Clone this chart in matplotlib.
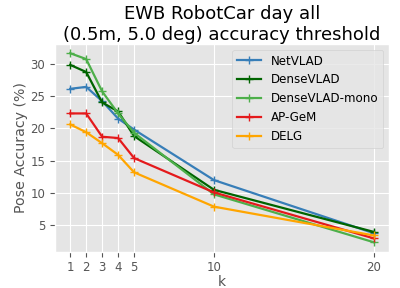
import numpy as np
import matplotlib

matplotlib.use("Agg")
import matplotlib.pyplot as plt

plt.style.use("ggplot")

k = [1, 2, 3, 4, 5, 10, 20]
netvlad = [26.1, 26.4, 24.2, 21.5, 19.8, 12.0, 3.8]
densevlad = [29.8, 28.7, 24.0, 22.6, 18.8, 10.5, 4.0]
densevlad_mono = [31.6, 30.7, 25.7, 22.3, 19.3, 9.8, 2.4]
ap_gem = [22.3, 22.3, 18.7, 18.5, 15.4, 10.1, 3.0]
delg = [20.6, 19.4, 17.7, 15.9, 13.2, 7.9, 3.45]

series = [
    ("NetVLAD", netvlad, "#377eb8"),
    ("DenseVLAD", densevlad, "darkgreen"),
    ("DenseVLAD-mono", densevlad_mono, "#4daf4a"),
    ("AP-GeM", ap_gem, "#e41a1c"),
    ("DELG", delg, "orange"),
]

fig, ax = plt.subplots(figsize=(4.0, 2.88), dpi=100)
for name, vals, col in series:
    ax.plot(k, vals, marker="+", color=col, lw=1.6, label=name)
ax.set_xticks(k)
ax.tick_params(labelsize=8.5)
ax.set_xlabel("k", fontsize=10, labelpad=0.5)
ax.set_ylabel("Pose Accuracy (%)", fontsize=10.2, labelpad=2)
ax.set_title("EWB RobotCar day all\n(0.5m, 5.0 deg) accuracy threshold", fontsize=13, pad=3)
ax.legend(loc="upper right", fontsize=8.6)
fig.subplots_adjust(left=0.1375, right=0.9725, top=0.848, bottom=0.126)
fig.savefig("out.png")
